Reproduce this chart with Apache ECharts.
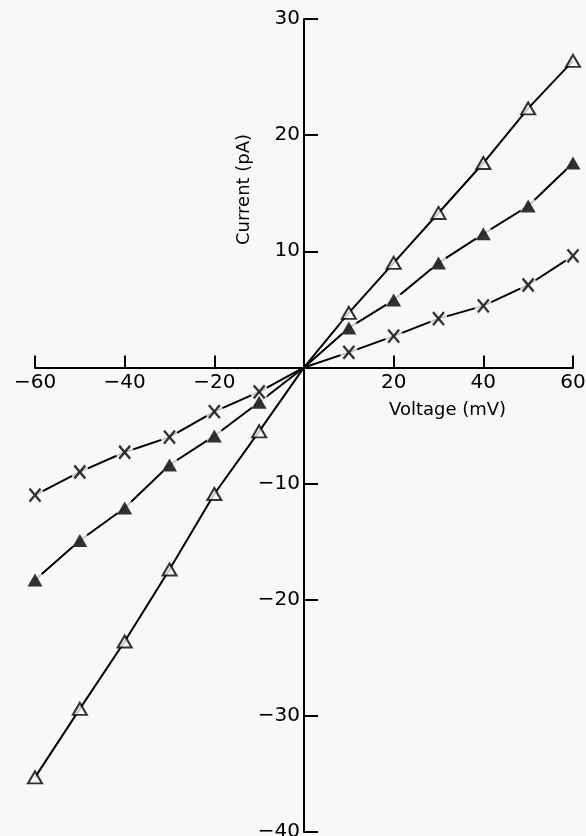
<!DOCTYPE html>
<html>
<head>
<meta charset="utf-8">
<script src="https://cdn.jsdelivr.net/npm/echarts@6/dist/echarts.min.js"></script>
<style>
  html, body { margin: 0; padding: 0; background: #f8f8f6; }
  #chart { width: 586px; height: 836px; }
</style>
</head>
<body>
<div id="chart"></div>
<script>
// Membrane voltage steps (mV)
const voltage = [-60, -50, -40, -30, -20, -10, 0, 10, 20, 30, 40, 50, 60];
// Current (pA) for the three recording conditions
const openTriangle = [-35.3, -29.4, -23.6, -17.4, -10.9, -5.5, 0, 4.7, 9.0, 13.3, 17.6, 22.3, 26.4];
const filledTriangle = [-18.3, -14.9, -12.1, -8.4, -5.9, -3.0, 0, 3.4, 5.8, 9.0, 11.5, 13.9, 17.6];
const crossMark = [-11.0, -9.0, -7.3, -6.0, -3.8, -2.1, 0, 1.3, 2.7, 4.2, 5.3, 7.1, 9.6];
// Axis ranges and tick steps
const xRange = [-60, 60];
const yRange = [-40, 30];
const xStep = 20;
const yStep = 10;

const BG = '#f8f8f6';
const INK = '#000';
const FONT = '"DejaVu Sans", sans-serif';

// Plot area in pixels
const W = 586, H = 836;
const G = { left: 35, right: 13, top: 19, bottom: 4 };
const plotW = W - G.left - G.right;
const plotH = H - G.top - G.bottom;
// Where the zero lines fall inside the plot area
const zeroX = G.left + plotW * (0 - xRange[0]) / (xRange[1] - xRange[0]);
const zeroY = G.top + plotH * (yRange[1] - 0) / (yRange[1] - yRange[0]);

const pairs = vals => voltage.map((v, i) => [v, vals[i]]);
const markerPairs = vals => pairs(vals).filter(p => p[0] !== 0);
const minusSign = v => (v === 0 ? '' : String(v).replace('-', '\u2212'));

const crossPath = 'path://M0,0L10,12M10,0L0,12';

const lineSeries = vals => ({
  type: 'line', data: pairs(vals), showSymbol: false, z: 2,
  lineStyle: { color: INK, width: 2 }, silent: true
});
const haloSeries = (vals, size) => ({
  type: 'scatter', data: markerPairs(vals), symbol: 'circle', symbolSize: size, z: 3,
  itemStyle: { color: BG }, silent: true
});

const chart = echarts.init(document.getElementById('chart'));
chart.setOption({
  backgroundColor: BG,
  animation: false,
  grid: { left: G.left, right: G.right, top: G.top, bottom: G.bottom, containLabel: false, outerBoundsMode: 'none' },
  xAxis: {
    type: 'value', min: xRange[0], max: xRange[1], interval: xStep,
    position: 'bottom', offset: -(H - G.bottom - zeroY),
    axisLine: { onZero: false, lineStyle: { color: INK, width: 2 } },
    axisTick: { inside: true, length: 12, lineStyle: { color: INK, width: 2 } },
    axisLabel: { margin: 5, color: INK, fontSize: 20, fontFamily: FONT, formatter: minusSign },
    splitLine: { show: false }
  },
  yAxis: {
    type: 'value', min: yRange[0], max: yRange[1], interval: yStep,
    position: 'left', offset: -(zeroX - G.left),
    axisLine: { onZero: false, lineStyle: { color: INK, width: 2 } },
    axisTick: { inside: true, length: 14, lineStyle: { color: INK, width: 2 } },
    axisLabel: { margin: 4, color: INK, fontSize: 20, fontFamily: FONT, formatter: minusSign },
    splitLine: { show: false }
  },
  graphic: [
    { type: 'text', left: 389, top: 401, style: { text: 'Voltage (mV)', fill: INK, font: '18px ' + FONT } },
    { type: 'text', x: 235, y: 245, rotation: Math.PI / 2, style: { text: 'Current (pA)', fill: INK, font: '18px ' + FONT } }
  ],
  series: [
    lineSeries(openTriangle),
    lineSeries(filledTriangle),
    lineSeries(crossMark),
    haloSeries(filledTriangle, 18),
    haloSeries(crossMark, 18),
    {
      type: 'scatter', data: markerPairs(openTriangle), symbol: 'triangle', symbolSize: [14, 12], z: 4,
      itemStyle: { color: BG, borderColor: INK, borderWidth: 2 }
    },
    {
      type: 'scatter', data: markerPairs(filledTriangle), symbol: 'triangle', symbolSize: [15, 13], z: 4,
      itemStyle: { color: INK }
    },
    {
      type: 'scatter', data: markerPairs(crossMark), symbol: crossPath, symbolSize: [11, 13], z: 4,
      itemStyle: { color: 'none', borderColor: INK, borderWidth: 2.4 }
    }
  ]
});
</script>
</body>
</html>
